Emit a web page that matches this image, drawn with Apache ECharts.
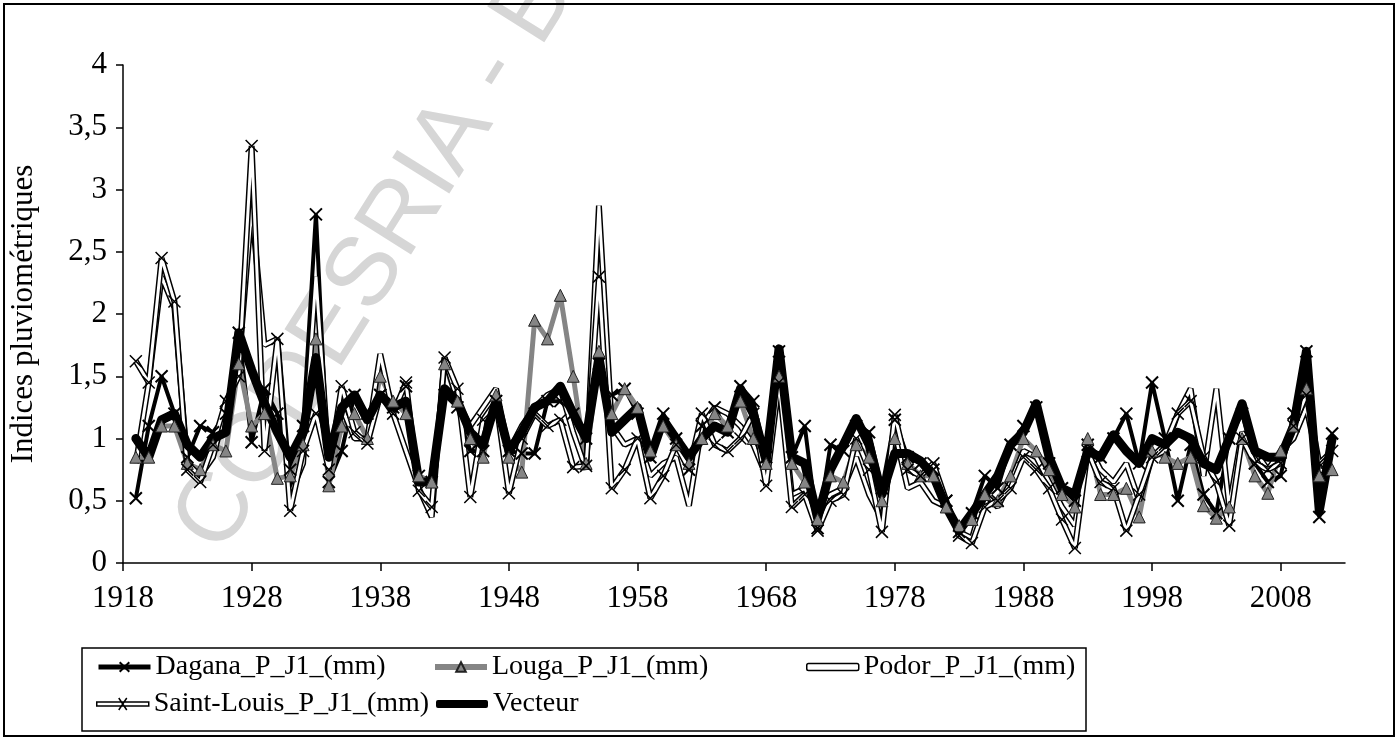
<!DOCTYPE html>
<html>
<head>
<meta charset="utf-8">
<script src="https://cdn.jsdelivr.net/npm/echarts@6/dist/echarts.min.js"></script>
<style>
  html, body { margin: 0; padding: 0; background: #fff; }
  #chart { width: 1398px; height: 740px; }
</style>
</head>
<body>
<div id="chart"></div>
<script>
// axis categories: 1918 .. 2013 (first and last have no data)
const years = [
  1918, 1919, 1920, 1921, 1922, 1923, 1924, 1925, 1926, 1927,
  1928, 1929, 1930, 1931, 1932, 1933, 1934, 1935, 1936, 1937,
  1938, 1939, 1940, 1941, 1942, 1943, 1944, 1945, 1946, 1947,
  1948, 1949, 1950, 1951, 1952, 1953, 1954, 1955, 1956, 1957,
  1958, 1959, 1960, 1961, 1962, 1963, 1964, 1965, 1966, 1967,
  1968, 1969, 1970, 1971, 1972, 1973, 1974, 1975, 1976, 1977,
  1978, 1979, 1980, 1981, 1982, 1983, 1984, 1985, 1986, 1987,
  1988, 1989, 1990, 1991, 1992, 1993, 1994, 1995, 1996, 1997,
  1998, 1999, 2000, 2001, 2002, 2003, 2004, 2005, 2006, 2007,
  2008, 2009, 2010, 2011, 2012, 2013
];

// values 1919 .. 2012
const dagana = [
  0.52, 1.1, 1.5, 1.2, 0.85, 1.1, 1.05, 1.2, 1.85, 0.97,
  1.4, 1.2, 0.75, 1.1, 2.8, 0.65, 0.9, 1.35, 1.2, 1.35,
  1.25, 1.42, 0.7, 0.65, 1.35, 1.25, 0.9, 0.9, 1.3, 0.9,
  0.88, 0.88, 1.3, 1.3, 1.2, 1.0, 1.6, 1.35, 1.4, 1.2,
  0.85, 1.2, 1.0, 0.75, 1.1, 1.25, 1.05, 1.42, 1.3, 0.85,
  1.7, 0.85, 1.1, 0.28, 0.95, 0.9, 1.1, 1.05, 0.6, 1.15,
  0.85, 0.8, 0.75, 0.5, 0.25, 0.4, 0.7, 0.6, 0.95, 1.1,
  1.25, 0.8, 0.6, 0.5, 0.95, 0.85, 1.0, 1.2, 0.8, 1.45,
  1.0, 0.5, 0.95, 0.55, 0.4, 1.0, 1.2, 0.8, 0.65, 0.7,
  1.2, 1.7, 0.37, 1.04
];
const louga = [
  0.85, 0.85, 1.1, 1.1, 0.8, 0.75, 0.95, 0.9, 1.6, 1.1,
  1.2, 0.68, 0.7, 0.95, 1.8, 0.62, 1.1, 1.2, 1.0, 1.5,
  1.3, 1.2, 0.7, 0.65, 1.6, 1.3, 1.0, 0.85, 1.35, 0.85,
  0.73, 1.95, 1.8, 2.15, 1.5, 0.8, 1.7, 1.2, 1.4, 1.25,
  0.9, 1.1, 0.95, 0.8, 1.0, 1.2, 1.1, 1.3, 1.0, 0.8,
  1.5, 0.8, 0.65, 0.35, 0.7, 0.65, 0.95, 0.85, 0.5, 1.0,
  0.8, 0.7, 0.7, 0.45, 0.3, 0.35, 0.55, 0.5, 0.7, 1.0,
  0.9, 0.75, 0.55, 0.45, 1.0, 0.55, 0.55, 0.6, 0.37, 0.9,
  0.85, 0.8, 0.85, 0.46, 0.36, 0.45, 1.0, 0.7, 0.56, 0.9,
  1.1, 1.4, 0.7, 0.75
];
const podor = [
  0.8, 1.45, 2.3, 2.05, 0.8, 0.7, 0.85, 1.25, 1.6, 2.85,
  1.75, 1.8, 0.55, 0.8, 2.3, 0.8, 1.25, 1.0, 1.0, 1.68,
  1.2, 0.9, 0.6, 0.37, 1.65, 1.3, 1.1, 1.25, 1.4, 0.9,
  1.1, 1.25, 1.35, 1.4, 1.05, 0.75, 2.87, 1.1, 0.95, 1.0,
  0.7, 0.8, 0.85, 0.46, 1.1, 1.25, 1.2, 1.1, 0.95, 0.7,
  1.5, 0.55, 0.6, 0.4, 0.55, 0.6, 0.85, 0.55, 0.35, 1.05,
  0.6, 0.65, 0.5, 0.45, 0.25, 0.2, 0.55, 0.45, 0.65, 0.9,
  0.85, 0.65, 0.45, 0.3, 0.95, 0.75, 0.65, 0.8, 0.5, 0.85,
  0.9, 1.2, 1.4, 0.7, 1.4, 0.45, 1.05, 0.9, 0.75, 0.9,
  1.0, 1.25, 0.75, 0.72
];
const saintLouis = [
  1.62, 1.45, 2.45, 2.1, 0.75, 0.65, 0.95, 1.3, 1.5, 3.35,
  0.9, 1.8, 0.42, 0.9, 1.2, 0.75, 1.42, 1.05, 0.96, 1.35,
  1.2, 1.45, 0.58, 0.45, 1.65, 1.4, 0.53, 1.15, 1.3, 0.56,
  1.0, 1.2, 1.1, 1.15, 0.77, 0.78, 2.3, 0.6, 0.75, 1.0,
  0.52, 0.7, 0.95, 0.75, 1.2, 0.95, 0.9, 1.0, 1.2, 0.62,
  1.45, 0.45, 0.55, 0.26, 0.5, 0.55, 1.0, 0.75, 0.25, 1.19,
  0.75, 0.7, 0.8, 0.5, 0.22, 0.16, 0.45, 0.5, 0.6, 0.85,
  0.75, 0.6, 0.35, 0.12, 0.9, 0.65, 0.6, 0.26, 0.55, 0.85,
  0.95, 1.2, 1.3, 0.85, 0.65, 0.3, 1.0, 0.8, 0.75, 0.8,
  1.1, 1.35, 0.8, 0.9
];
const vecteur = [
  1.0, 0.85, 1.15, 1.2, 0.95, 0.85, 1.0, 1.05, 1.85, 1.55,
  1.28, 1.05, 0.85, 1.05, 1.65, 0.85, 1.25, 1.35, 1.15, 1.35,
  1.25, 1.3, 0.65, 0.65, 1.4, 1.3, 1.05, 0.95, 1.3, 0.9,
  1.05, 1.25, 1.3, 1.42, 1.2, 1.0, 1.65, 1.05, 1.15, 1.25,
  0.85, 1.15, 1.0, 0.85, 1.0, 1.1, 1.05, 1.4, 1.2, 0.82,
  1.72, 0.85, 0.8, 0.36, 0.75, 0.95, 1.16, 0.95, 0.55, 0.88,
  0.88, 0.82, 0.7, 0.45, 0.26, 0.4, 0.55, 0.7, 0.95, 1.05,
  1.28, 0.85, 0.6, 0.55, 0.9, 0.85, 1.03, 0.9, 0.8, 1.0,
  0.95, 1.05, 1.0, 0.8, 0.75, 1.0, 1.28, 0.9, 0.85, 0.85,
  1.1, 1.7, 0.42, 1.0
];

const FONT = "'Liberation Serif', 'Times New Roman', serif";
const CROSS = "path://M0,0 L10,10 M10,0 L0,10";
const pad = (arr) => [null].concat(arr, [null]);

const chart = echarts.init(document.getElementById("chart"));

function legendAt(name, left, top, extra) {
  return Object.assign({
    data: [name],
    left: left,
    top: top,
    padding: 0,
    itemWidth: 52,
    itemHeight: 12,
    selectedMode: false,
    textStyle: { fontFamily: FONT, fontSize: 28, color: "#000" }
  }, extra || {});
}

const option = {
  backgroundColor: "#fff",
  animation: false,
  grid: { left: 122, right: 53, top: 65, bottom: 177 },
  xAxis: {
    type: "category",
    data: years,
    boundaryGap: false,
    axisLine: { lineStyle: { color: "#000", width: 1.5 } },
    axisTick: { interval: 9, length: 8, lineStyle: { color: "#000", width: 1.5 } },
    axisLabel: { interval: 9, margin: 20, fontFamily: FONT, fontSize: 31, color: "#000" },
    splitLine: { show: false }
  },
  yAxis: {
    type: "value",
    min: 0,
    max: 4,
    interval: 0.5,
    name: "Indices pluviométriques",
    nameLocation: "middle",
    nameGap: 84,
    nameTextStyle: { fontFamily: FONT, fontSize: 31, color: "#000" },
    axisLine: { show: true, lineStyle: { color: "#000", width: 1.5 } },
    axisTick: { show: true, length: 7, lineStyle: { color: "#000", width: 1.5 } },
    axisLabel: {
      margin: 16,
      fontFamily: FONT,
      fontSize: 31,
      color: "#000",
      formatter: (v) => String(v).replace(".", ",")
    },
    splitLine: { show: false }
  },
  legend: [
    legendAt("Dagana_P_J1_(mm)", 96, 653, {
      lineStyle: { width: 5, color: "#000" }
    }),
    legendAt("Louga_P_J1_(mm)", 432, 653, {
      lineStyle: { width: 6, color: "#858585" }
    }),
    legendAt("Podor_P_J1_(mm)", 806, 653, {
      icon: "roundRect", itemHeight: 7,
      itemStyle: { color: "#fff", borderColor: "#000", borderWidth: 1.5 }
    }),
    legendAt("Saint-Louis_P_J1_(mm)", 96, 690, {
      icon: "path://M0,4 L52,4 L52,8 L0,8 Z M22,0 L30,12 M30,0 L22,12",
      itemStyle: { color: "#fff", borderColor: "#000", borderWidth: 1.5 }
    }),
    legendAt("Vecteur", 436, 690, {
      icon: "roundRect", itemHeight: 8,
      itemStyle: { color: "#000", borderWidth: 0 }
    })
  ],
  graphic: [
    {
      type: "text",
      x: 240, y: 568,
      rotation: 1.01,
      silent: true,
      z: -10,
      style: {
        text: "CODESRIA - BIBLIOTHEQUE",
        font: "98px 'Liberation Sans', Arial, sans-serif",
        fill: "#d6d6d6",
        align: "left",
        verticalAlign: "bottom"
      }
    },
    {
      type: "rect",
      silent: true,
      shape: { x: 4, y: 4, width: 1390, height: 732 },
      style: { fill: null, stroke: "#000", lineWidth: 2 }
    },
    {
      type: "rect",
      silent: true,
      shape: { x: 82, y: 648, width: 1004, height: 83 },
      style: { fill: null, stroke: "#000", lineWidth: 1.5 }
    }
  ],
  series: [
    {
      name: "Dagana_P_J1_(mm)",
      type: "line",
      data: pad(dagana),
      symbol: CROSS,
      symbolSize: 12,
      showAllSymbol: true,
      lineStyle: { color: "#000", width: 4 },
      itemStyle: { color: "#000", borderColor: "#000", borderWidth: 2 }
    },
    {
      name: "Louga_P_J1_(mm)",
      type: "line",
      data: pad(louga),
      symbol: "triangle",
      symbolSize: 12,
      showAllSymbol: true,
      lineStyle: { color: "#858585", width: 5 },
      itemStyle: { color: "#858585", borderColor: "#222", borderWidth: 1 }
    },
    {
      name: "Podor_P_J1_(mm)",
      type: "line",
      data: pad(podor),
      symbol: "none",
      lineStyle: { color: "#000", width: 6 }
    },
    {
      name: "Podor_P_J1_(mm)",
      type: "line",
      data: pad(podor),
      symbol: "none",
      lineStyle: { color: "#fff", width: 3 }
    },
    {
      name: "Saint-Louis_P_J1_(mm)",
      type: "line",
      data: pad(saintLouis),
      symbol: "none",
      lineStyle: { color: "#000", width: 6 }
    },
    {
      name: "Saint-Louis_P_J1_(mm)",
      type: "line",
      data: pad(saintLouis),
      symbol: CROSS,
      symbolSize: 12,
      showAllSymbol: true,
      lineStyle: { color: "#fff", width: 3 },
      itemStyle: { color: "#000", borderColor: "#000", borderWidth: 1.5 }
    },
    {
      name: "Vecteur",
      type: "line",
      data: pad(vecteur),
      symbol: "none",
      itemStyle: { color: "#000" },
      lineStyle: { color: "#000", width: 9, cap: "round", join: "round" }
    }
  ]
};

chart.setOption(option);
</script>
</body>
</html>
